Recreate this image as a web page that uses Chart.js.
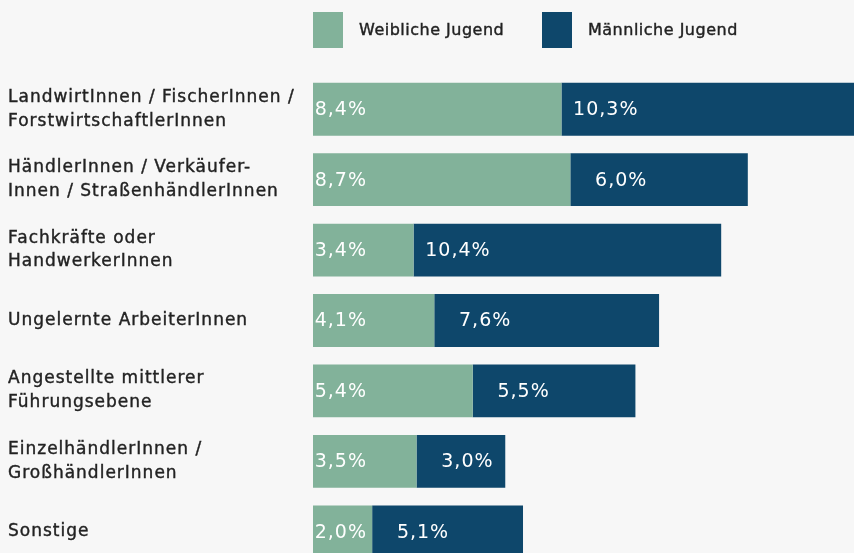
<!DOCTYPE html>
<html>
<head>
<meta charset="utf-8">
<style>
html,body{margin:0;padding:0;background:#f7f7f7;overflow:hidden;width:854px;height:553px}
#c{position:absolute;left:0;top:0}
</style>
<script src="https://cdn.jsdelivr.net/npm/chart.js@4/dist/chart.umd.min.js"></script>
</head>
<body>
<canvas id="c" width="854" height="567"></canvas>
<script>
const categories = [
  ["LandwirtInnen / FischerInnen /", "ForstwirtschaftlerInnen"],
  ["HändlerInnen / Verkäufer-", "Innen / StraßenhändlerInnen"],
  ["Fachkräfte oder", "HandwerkerInnen"],
  ["Ungelernte ArbeiterInnen"],
  ["Angestellte mittlerer", "Führungsebene"],
  ["EinzelhändlerInnen /", "GroßhändlerInnen"],
  ["Sonstige"]
];
const seriesNames = ["Weibliche Jugend", "Männliche Jugend"];
const female = [8.4, 8.7, 3.4, 4.1, 5.4, 3.5, 2.0];
const male = [10.3, 6.0, 10.4, 7.6, 5.5, 3.0, 5.1];

const COLORS = ["#82b29a", "#0e476b"];
const FONT = "'DejaVu Sans'";
const TEXT = "#222222";
const LABEL_RIGHT = [54, 77];

function fmt(v) { return v.toFixed(1).replace(".", ",") + "%"; }

const spacing = {
  id: "spacing",
  beforeDraw(chart) { chart.ctx.letterSpacing = "1px"; }
};

const valueLabels = {
  id: "valueLabels",
  afterDatasetsDraw(chart) {
    const ctx = chart.ctx;
    ctx.save();
    ctx.letterSpacing = "1px";
    ctx.font = "19px " + FONT;
    ctx.fillStyle = "#ffffff";
    ctx.textAlign = "right";
    ctx.textBaseline = "middle";
    chart.data.datasets.forEach((ds, di) => {
      const meta = chart.getDatasetMeta(di);
      meta.data.forEach((el, i) => {
        ctx.fillText(fmt(ds.data[i]), el.base + LABEL_RIGHT[di], el.y + 1);
      });
    });
    ctx.restore();
  }
};

const topLegend = {
  id: "topLegend",
  afterDraw(chart) {
    const ctx = chart.ctx;
    ctx.save();
    ctx.letterSpacing = "0.5px";
    ctx.font = "16px " + FONT;
    ctx.textBaseline = "middle";
    ctx.textAlign = "left";
    ctx.lineWidth = 0.4;
    ctx.strokeStyle = TEXT;
    chart.data.datasets.forEach((ds, di) => {
      const x = chart.chartArea.left + di * 229;
      ctx.fillStyle = ds.backgroundColor;
      ctx.fillRect(x, 12, 30, 36);
      ctx.fillStyle = TEXT;
      ctx.fillText(ds.label, x + 46, 31);
      ctx.strokeText(ds.label, x + 46, 31);
    });
    ctx.restore();
  }
};

new Chart(document.getElementById("c"), {
  type: "bar",
  data: {
    labels: categories,
    datasets: [
      { label: seriesNames[0], data: female, backgroundColor: COLORS[0] },
      { label: seriesNames[1], data: male, backgroundColor: COLORS[1] }
    ]
  },
  options: {
    indexAxis: "y",
    responsive: false,
    animation: false,
    layout: { padding: { left: 8, top: 74, right: 0, bottom: 0 } },
    datasets: { bar: { barPercentage: 0.75, categoryPercentage: 1, borderWidth: 0 } },
    plugins: { legend: { display: false }, tooltip: { enabled: false } },
    scales: {
      x: { stacked: true, min: 0, max: 18.29, display: false },
      y: {
        stacked: true,
        grid: { display: false },
        border: { display: false },
        ticks: {
          crossAlign: "far",
          padding: 0,
          color: TEXT,
          textStrokeColor: TEXT,
          textStrokeWidth: 0.4,
          font: { family: FONT, size: 17, lineHeight: 1.41 }
        },
        afterFit(s) { s.width = 305; s.paddingTop = 0; s.paddingBottom = 0; }
      }
    }
  },
  plugins: [spacing, valueLabels, topLegend]
});
</script>
</body>
</html>
